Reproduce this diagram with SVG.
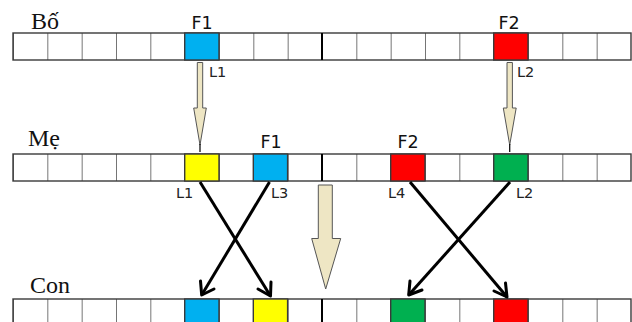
<svg xmlns="http://www.w3.org/2000/svg" width="632" height="322" viewBox="0 0 632 322">
<defs>
  <style>
    .cell{fill:#fff;stroke:#3a3a3a;stroke-width:1.4}
    .mid{stroke:#000;stroke-width:2}
    .ttl{font-family:"Liberation Serif",serif;font-size:24px;fill:#111}
    .f{font-family:"DejaVu Sans",sans-serif;font-size:17.5px;fill:#111;text-anchor:middle}
    .l{font-family:"DejaVu Sans",sans-serif;font-size:14.5px;fill:#222}
    .beige{fill:#EEE6C4;stroke:#555;stroke-width:1}
    .cross{stroke:#000;stroke-width:3;fill:none}
    .head{stroke:#000;stroke-width:3;fill:none;stroke-linecap:round;stroke-linejoin:round}
  </style>
  <pattern id="row" x="13" y="0" width="34.333" height="27" patternUnits="userSpaceOnUse">
    <rect x="0" y="0" width="34.333" height="27" fill="#fff"/>
    <line x1="0" y1="0" x2="0" y2="27" stroke="#3a3a3a" stroke-width="1.4"/>
  </pattern>
</defs>

<g id="bo">
  <text class="ttl" x="31" y="29">Bố</text>
  <rect class="cell" x="13" y="33" width="618" height="27" style="fill:url(#row)"/>
  <rect x="184.7" y="33" width="34.3" height="27" fill="#00B0F0" stroke="#3a3a3a" stroke-width="1.4"/>
  <rect x="493.7" y="33" width="34.3" height="27" fill="#FF0000" stroke="#3a3a3a" stroke-width="1.4"/>
  <line class="mid" x1="322" y1="33" x2="322" y2="60"/>
  <text class="f" x="202" y="29">F1</text>
  <text class="f" x="509" y="29">F2</text>
  <text class="l" x="209" y="77">L1</text>
  <text class="l" x="517" y="77">L2</text>
</g>

<g id="me">
  <text class="ttl" x="28" y="146">Mẹ</text>
  <rect class="cell" x="13" y="154" width="618" height="27" style="fill:url(#row)"/>
  <rect x="184.7" y="154" width="34.3" height="27" fill="#FFFF00" stroke="#3a3a3a" stroke-width="1.4"/>
  <rect x="253.3" y="154" width="34.3" height="27" fill="#00B0F0" stroke="#3a3a3a" stroke-width="1.4"/>
  <rect x="390.7" y="154" width="34.3" height="27" fill="#FF0000" stroke="#3a3a3a" stroke-width="1.4"/>
  <rect x="493.7" y="154" width="34.3" height="27" fill="#00B050" stroke="#3a3a3a" stroke-width="1.4"/>
  <line class="mid" x1="322" y1="154" x2="322" y2="181"/>
  <text class="f" x="271" y="148">F1</text>
  <text class="f" x="408" y="148">F2</text>
  <text class="l" x="176" y="198">L1</text>
  <text class="l" x="271" y="198">L3</text>
  <text class="l" x="388" y="198">L4</text>
  <text class="l" x="516" y="198">L2</text>
</g>

<g id="con">
  <text class="ttl" x="30" y="293">Con</text>
  <rect class="cell" x="13" y="299" width="618" height="27" style="fill:url(#row)"/>
  <rect x="184.7" y="299" width="34.3" height="27" fill="#00B0F0" stroke="#3a3a3a" stroke-width="1.4"/>
  <rect x="253.3" y="299" width="34.3" height="27" fill="#FFFF00" stroke="#3a3a3a" stroke-width="1.4"/>
  <rect x="390.7" y="299" width="34.3" height="27" fill="#00B050" stroke="#3a3a3a" stroke-width="1.4"/>
  <rect x="493.7" y="299" width="34.3" height="27" fill="#FF0000" stroke="#3a3a3a" stroke-width="1.4"/>
  <line class="mid" x1="322" y1="299" x2="322" y2="326"/>
</g>

<g id="connectors">
  <path class="beige" d="M197.3,62.5 H202.7 V108 H206.3 L200,145 L193.7,108 H197.3 Z"/>
  <line x1="200" y1="144" x2="200" y2="152" stroke="#111" stroke-width="1.3"/>
  <path class="beige" d="M507,62.5 H512.4 V108 H516.2 L509.7,145 L503.3,108 H507 Z"/>
  <line x1="509.7" y1="144" x2="509.7" y2="152" stroke="#111" stroke-width="1.3"/>
  <path class="beige" d="M318.3,185 H332.3 V238.5 H340.7 L325.7,289 L311.7,238.5 H318.3 Z"/>

  <line class="cross" x1="200" y1="182" x2="270.5" y2="296"/>
  <polyline class="head" points="258,289 270.5,296 271,282"/>
  <line class="cross" x1="269.5" y1="182" x2="201.7" y2="295"/>
  <polyline class="head" points="200.5,281 201.7,295 214,289"/>
  <line class="cross" x1="410" y1="182" x2="507" y2="297"/>
  <polyline class="head" points="494,291 507,297 505.5,283"/>
  <line class="cross" x1="510" y1="182" x2="408.7" y2="295"/>
  <polyline class="head" points="410,281 408.7,295 422,290"/>
</g>
</svg>
